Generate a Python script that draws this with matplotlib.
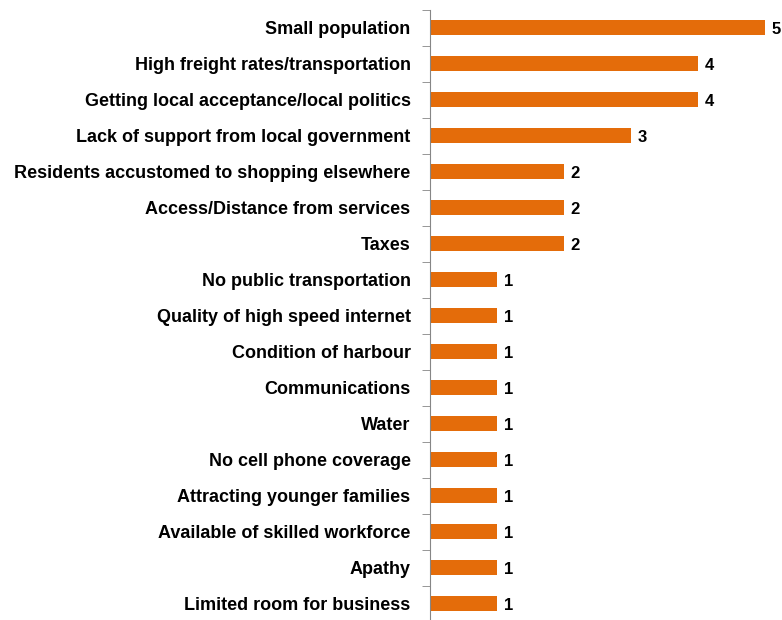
import matplotlib.pyplot as plt
import numpy as np

categories = [
    'Small population',
    'High freight rates/transportation',
    'Getting local acceptance/local politics',
    'Lack of support from local government',
    'Residents accustomed to shopping elsewhere',
    'Access/Distance from services',
    'Taxes',
    'No public transportation',
    'Quality of high speed internet',
    'Condition of harbour',
    'Communications',
    'Water',
    'No cell phone coverage',
    'Attracting younger families',
    'Available of skilled workforce',
    'Apathy',
    'Limited room for business',
]
counts = [5, 4, 4, 3, 2, 2, 2, 1, 1, 1, 1, 1, 1, 1, 1, 1, 1]

plt.rcParams['font.family'] = ['Liberation Sans', 'DejaVu Sans']

fig = plt.figure(figsize=(7.82, 6.2), dpi=100)
ax = fig.add_axes([0.5499, -0.003, 0.4284, 0.9873])

y = np.arange(len(categories))
ax.barh(y, counts, height=0.42, color='#E46C0A')

for yi, v in zip(y, counts):
    ax.text(v + 0.1, yi + 0.05, str(v), va='center', ha='left',
            fontsize=12, fontweight='bold', color='black')

ax.set_xlim(0, 5)
ax.set_ylim(len(categories) - 0.5, -0.5)
ax.set_yticks(y)
ax.set_yticklabels(categories, fontsize=12.95, fontweight='bold')
ax.set_yticks(np.arange(len(categories) + 1) - 0.5, minor=True)
ax.tick_params(axis='y', which='major', length=0, pad=14)
ax.tick_params(axis='y', which='minor', length=6, color='#868686')
ax.set_xticks([])

for s in ['top', 'right', 'bottom']:
    ax.spines[s].set_visible(False)
ax.spines['left'].set_color('#868686')

fig.savefig('out.png', dpi=100)
